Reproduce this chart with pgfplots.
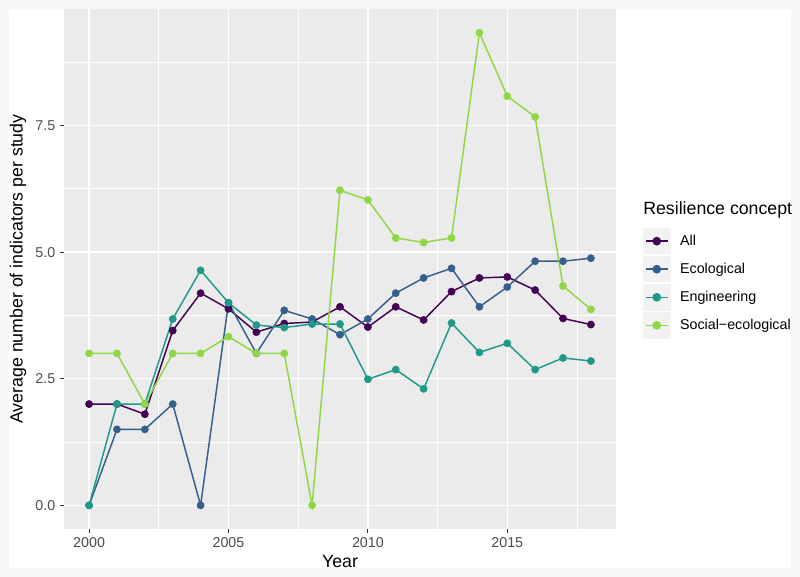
\documentclass[border=0pt]{standalone}
\usepackage{fontspec}
\setmainfont{Liberation Sans}
\usepackage{pgfplots}
\pgfplotsset{compat=1.18}

\definecolor{cAll}{HTML}{440154}
\definecolor{cEco}{HTML}{355F8D}
\definecolor{cEng}{HTML}{1F9A8A}
\definecolor{cSoc}{HTML}{8FD744}
\definecolor{panelbg}{HTML}{EBEBEB}
\definecolor{keybg}{HTML}{F2F2F2}
\definecolor{outerbg}{HTML}{F7F7F7}
\definecolor{ticktext}{HTML}{4D4D4D}

\newcommand{\ticksize}{\fontsize{10.7}{12.8}\selectfont}
\newcommand{\titlesize}{\fontsize{13.3}{16}\selectfont}

\begin{document}
\begin{tikzpicture}
% page background: light grey frame, white plot area
\fill[outerbg] (0pt,0pt) rectangle (600pt,-432.75pt);
\fill[white] (6.75pt,-6.75pt) rectangle (593.25pt,-426pt);

\begin{axis}[
    at={(48pt,-6.75pt)}, anchor=north west,
    scale only axis,
    width=414pt, height=390pt,
    xmin=1999.1, xmax=2018.9,
    ymin=-0.4667, ymax=9.8,
    axis background/.style={fill=panelbg},
    axis line style={draw=none},
    xtick={2000,2005,2010,2015},
    ytick={0,2.5,5,7.5},
    minor xtick={2002.5,2007.5,2012.5,2017.5},
    minor ytick={1.25,3.75,6.25,8.75},
    grid=both,
    major grid style={white, line width=1.1pt},
    minor grid style={white, line width=0.55pt},
    tick align=outside,
    major tick length=3pt,
    minor tick length=0pt,
    tick style={color=black!80, line width=0.8pt},
    xtick pos=bottom, ytick pos=left,
    /pgf/number format/assume math mode=true,
    x tick label style={/pgf/number format/1000 sep={}, font=\ticksize, text=ticktext},
    y tick label style={/pgf/number format/fixed, /pgf/number format/fixed zerofill,
        /pgf/number format/precision=1, font=\ticksize, text=ticktext},
    xlabel={Year},
    ylabel={Average number of indicators per study},
    label style={font=\titlesize},
    xlabel style={at={(axis description cs:0.5,-0.074)}, anchor=base},
    ylabel style={at={(axis description cs:-0.0833,0.5)}, anchor=center},
    clip=false,
    legend image code/.code={
        \fill[keybg] (0pt,-9.375pt) rectangle (19.5pt,9.375pt);
        \draw[#1, mark repeat=2, mark phase=2]
            plot coordinates {(1.5pt,0pt) (9.75pt,0pt) (18pt,0pt)};
    },
    legend style={
        at={(axis description cs:1.049,0.579)}, anchor=north west,
        draw=none, fill=none, inner sep=0pt, outer sep=0pt,
        font=\ticksize, row sep=1.2pt,
        nodes={inner sep=0pt},
        /tikz/every odd column/.append style={column sep=7.2pt},
    },
    legend cell align=left,
]

% lines first, points on top (as ggplot draws the layers)
\addplot[cAll, line width=1.1pt, forget plot] coordinates {
(2000,2) (2001,2) (2002,1.8) (2003,3.45) (2004,4.19) (2005,3.88) (2006,3.42)
(2007,3.59) (2008,3.62) (2009,3.92) (2010,3.52) (2011,3.92) (2012,3.66)
(2013,4.22) (2014,4.49) (2015,4.51) (2016,4.25) (2017,3.69) (2018,3.57)
};
\addplot[cEco, line width=1.1pt, forget plot] coordinates {
(2000,0) (2001,1.5) (2002,1.5) (2003,2) (2004,0) (2005,4) (2006,3)
(2007,3.85) (2008,3.68) (2009,3.37) (2010,3.68) (2011,4.19) (2012,4.49)
(2013,4.68) (2014,3.92) (2015,4.31) (2016,4.82) (2017,4.82) (2018,4.88)
};
\addplot[cEng, line width=1.1pt, forget plot] coordinates {
(2000,0) (2001,2) (2002,2) (2003,3.68) (2004,4.64) (2005,4) (2006,3.56)
(2007,3.51) (2008,3.58) (2009,3.58) (2010,2.49) (2011,2.68) (2012,2.3)
(2013,3.6) (2014,3.02) (2015,3.2) (2016,2.68) (2017,2.91) (2018,2.85)
};
\addplot[cSoc, line width=1.1pt, forget plot] coordinates {
(2000,3) (2001,3) (2002,2) (2003,3) (2004,3) (2005,3.33) (2006,3)
(2007,3) (2008,0) (2009,6.22) (2010,6.03) (2011,5.28) (2012,5.19)
(2013,5.28) (2014,9.33) (2015,8.08) (2016,7.67) (2017,4.33) (2018,3.87)
};

\addplot[only marks, mark=*, mark size=2.7pt, cAll, forget plot] coordinates {
(2000,2) (2001,2) (2002,1.8) (2003,3.45) (2004,4.19) (2005,3.88) (2006,3.42)
(2007,3.59) (2008,3.62) (2009,3.92) (2010,3.52) (2011,3.92) (2012,3.66)
(2013,4.22) (2014,4.49) (2015,4.51) (2016,4.25) (2017,3.69) (2018,3.57)
};
\addplot[only marks, mark=*, mark size=2.7pt, cEco, forget plot] coordinates {
(2000,0) (2001,1.5) (2002,1.5) (2003,2) (2004,0) (2005,4) (2006,3)
(2007,3.85) (2008,3.68) (2009,3.37) (2010,3.68) (2011,4.19) (2012,4.49)
(2013,4.68) (2014,3.92) (2015,4.31) (2016,4.82) (2017,4.82) (2018,4.88)
};
\addplot[only marks, mark=*, mark size=2.7pt, cEng, forget plot] coordinates {
(2000,0) (2001,2) (2002,2) (2003,3.68) (2004,4.64) (2005,4) (2006,3.56)
(2007,3.51) (2008,3.58) (2009,3.58) (2010,2.49) (2011,2.68) (2012,2.3)
(2013,3.6) (2014,3.02) (2015,3.2) (2016,2.68) (2017,2.91) (2018,2.85)
};
\addplot[only marks, mark=*, mark size=2.7pt, cSoc, forget plot] coordinates {
(2000,3) (2001,3) (2002,2) (2003,3) (2004,3) (2005,3.33) (2006,3)
(2007,3) (2008,0) (2009,6.22) (2010,6.03) (2011,5.28) (2012,5.19)
(2013,5.28) (2014,9.33) (2015,8.08) (2016,7.67) (2017,4.33) (2018,3.87)
};

\addlegendimage{cAll, line width=1.1pt, mark=*, mark size=2.7pt}
\addlegendentry{All}
\addlegendimage{cEco, line width=1.1pt, mark=*, mark size=2.7pt}
\addlegendentry{Ecological}
\addlegendimage{cEng, line width=1.1pt, mark=*, mark size=2.7pt}
\addlegendentry{Engineering}
\addlegendimage{cSoc, line width=1.1pt, mark=*, mark size=2.7pt}
\addlegendentry{Social−ecological}

\node[anchor=base west, inner sep=0pt, font=\titlesize]
    at (axis description cs:1.049,0.604) {Resilience concept};
\end{axis}

\pgfresetboundingbox
\path (0pt,0pt) rectangle (600pt,-432.75pt);
\end{tikzpicture}
\end{document}
